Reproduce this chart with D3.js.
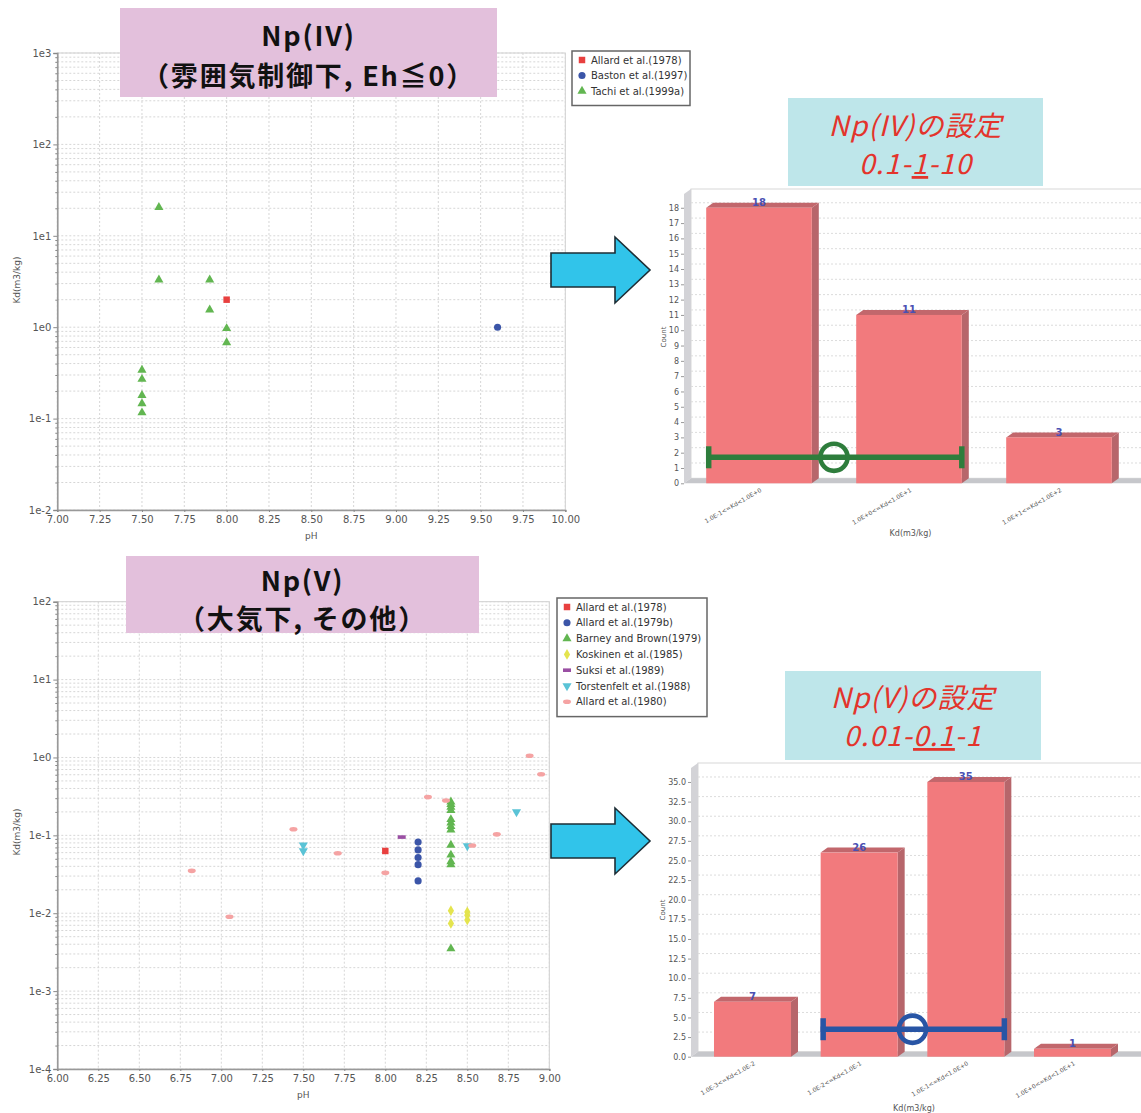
<!DOCTYPE html>
<html>
<head>
<meta charset="utf-8">
<script src="https://cdn.jsdelivr.net/npm/d3@7"></script>
<style>
  body { margin: 0; background: #fff; }
  svg { display: block; }
</style>
</head>
<body>
<svg id="chart" width="1141" height="1113"></svg>
<script>
// ---------- Np(IV): Kd vs pH (reducing conditions) ----------
const ivAllard1978  = [[8.0, 2.0]];
const ivBaston1997  = [[9.6, 1.0]];
const ivTachi1999a  = [[7.6, 20.5], [7.6, 3.3], [7.9, 3.3], [7.9, 1.55], [8.0, 0.97], [8.0, 0.68],
                       [7.5, 0.34], [7.5, 0.27], [7.5, 0.18], [7.5, 0.146], [7.5, 0.116]];
const ivKdTicks     = ["1e-2", "1e-1", "1e0", "1e1", "1e2", "1e3"];
const ivPhRange     = [7.0, 10.0];

// ---------- Np(V): Kd vs pH (air / other) ----------
const vAllard1978      = [[8.0, 0.063]];
const vAllard1979b     = [[8.2, 0.082], [8.2, 0.065], [8.2, 0.052], [8.2, 0.042], [8.2, 0.026]];
const vBarneyBrown1979 = [[8.4, 0.27], [8.4, 0.25], [8.4, 0.23], [8.4, 0.21], [8.4, 0.16], [8.4, 0.145],
                          [8.4, 0.13], [8.4, 0.118], [8.4, 0.075], [8.4, 0.056], [8.4, 0.046],
                          [8.4, 0.042], [8.4, 0.0035]];
const vKoskinen1985    = [[8.4, 0.0108], [8.4, 0.0074], [8.5, 0.0104], [8.5, 0.0094], [8.5, 0.0082]];
const vSuksi1989       = [[8.1, 0.095]];
const vTorstenfelt1988 = [[7.5, 0.075], [7.5, 0.063], [8.5, 0.073], [8.8, 0.2]];
const vAllard1980      = [[6.82, 0.035], [7.05, 0.009], [7.44, 0.12], [7.71, 0.059], [8.0, 0.033],
                          [8.26, 0.31], [8.37, 0.28], [8.53, 0.074], [8.68, 0.103], [8.88, 1.05],
                          [8.95, 0.61]];
const vKdTicks         = ["1e-4", "1e-3", "1e-2", "1e-1", "1e0", "1e1", "1e2"];
const vPhRange         = [6.0, 9.0];

// ---------- Histograms of Kd ----------
const ivBins    = ["1.0E-1<=Kd<1.0E+0", "1.0E+0<=Kd<1.0E+1", "1.0E+1<=Kd<1.0E+2"];
const ivCounts  = [18, 11, 3];
const ivSetting = [0.1, 1, 10];           // lower - selected - upper
const vBins     = ["1.0E-3<=Kd<1.0E-2", "1.0E-2<=Kd<1.0E-1", "1.0E-1<=Kd<1.0E+0", "1.0E+0<=Kd<1.0E+1"];
const vCounts   = [7, 26, 35, 1];
const vSetting  = [0.01, 0.1, 1];

// ---------- Titles ----------
const ivTitle = ["Np(IV)", "（雰囲気制御下, Eh≦0）"];
const vTitle  = ["Np(V)", "（大気下, その他）"];
const ivSetTitle = "Np(IV)の設定";
const vSetTitle  = "Np(V)の設定";

const svg = d3.select("#chart");
const SANS = "'DejaVu Sans', sans-serif";
const CJK = "'Noto Sans CJK JP', sans-serif";

// ---------- marker drawing ----------
const STYLES = {
  square:   { color: "#e8403f" },
  circle:   { color: "#3b55a8" },
  triangle: { color: "#62b651" },
  diamond:  { color: "#e4e44e" },
  dash:     { color: "#9a4fa3" },
  down:     { color: "#5ac3d6" },
  ellipse:  { color: "#f5a3a3" }
};
function drawMarker(g, shape, cx, cy) {
  const c = STYLES[shape].color;
  if (shape === "ellipse") {
    g.append("ellipse").attr("cx", cx).attr("cy", cy).attr("rx", 4).attr("ry", 2.3).attr("fill", c);
  } else if (shape === "dash") {
    g.append("rect").attr("x", cx - 4).attr("y", cy - 1.8).attr("width", 8).attr("height", 3.6).attr("fill", c);
  } else {
    const typ = { square: d3.symbolSquare, circle: d3.symbolCircle, triangle: d3.symbolTriangle,
                  diamond: d3.symbolDiamond, down: d3.symbolTriangle }[shape];
    const size = { square: 42, circle: 40, triangle: 36, diamond: 34, down: 36 }[shape];
    g.append("path").attr("d", d3.symbol(typ, size)())
      .attr("transform", `translate(${cx},${cy})` + (shape === "down" ? " rotate(180)" : ""))
      .attr("fill", c);
  }
}

// ---------- scatter plot with log Kd axis ----------
function scatter(cfg) {
  const g = svg.append("g");
  const tickVals = cfg.yTicks.map(Number);
  const x = d3.scaleLinear().domain(cfg.xDomain).range([cfg.left, cfg.right]);
  const y = d3.scaleLog().domain(d3.extent(tickVals)).range([cfg.bottom, cfg.top]);

  // grid
  const xt = d3.range(cfg.xDomain[0], cfg.xDomain[1] + 1e-9, 0.25);
  const minor = [];
  tickVals.slice(0, -1).forEach(v => { for (let m = 2; m < 10; m++) minor.push(v * m); });
  g.append("rect").attr("x", cfg.left).attr("y", cfg.top)
    .attr("width", cfg.right - cfg.left).attr("height", cfg.bottom - cfg.top)
    .attr("fill", "#fff").attr("stroke", "#cfcfcf");
  g.selectAll(".vg").data(xt).join("line")
    .attr("x1", d => x(d)).attr("x2", d => x(d)).attr("y1", cfg.top).attr("y2", cfg.bottom)
    .attr("stroke", "#d6d6d6").attr("stroke-dasharray", "2,2");
  g.selectAll(".hg").data(minor.concat(tickVals)).join("line")
    .attr("x1", cfg.left).attr("x2", cfg.right).attr("y1", d => y(d)).attr("y2", d => y(d))
    .attr("stroke", "#d6d6d6").attr("stroke-dasharray", "2,2");

  // axes
  const yAxis = d3.axisLeft(y).tickValues(tickVals).tickFormat((d, i) => cfg.yTicks[i]).tickSize(4).tickPadding(2);
  g.append("g").attr("transform", `translate(${cfg.left},0)`).call(yAxis);
  g.append("g").attr("transform", `translate(${cfg.left},0)`)
    .call(d3.axisLeft(y).tickValues(minor).tickFormat("").tickSize(2))
    .call(s => s.select(".domain").remove());
  const xAxis = d3.axisBottom(x).tickValues(xt).tickFormat(d3.format(".2f")).tickSize(2).tickPadding(4);
  g.append("g").attr("transform", `translate(0,${cfg.bottom})`).call(xAxis);
  g.selectAll(".domain").attr("stroke", "#999").attr("stroke-width", 1.6);
  g.selectAll(".tick line").attr("stroke", "#888");
  g.selectAll(".tick text").attr("font-family", SANS).attr("font-size", 10).attr("fill", "#555");

  g.append("text").attr("x", (cfg.left + cfg.right) / 2).attr("y", cfg.bottom + 29)
    .attr("text-anchor", "middle").attr("font-family", SANS).attr("font-size", 9).attr("fill", "#555").text("pH");
  g.append("text").attr("transform", `translate(${cfg.left - 37},${cfg.yLabelY}) rotate(-90)`)
    .attr("text-anchor", "middle").attr("font-family", SANS).attr("font-size", 9).attr("fill", "#555").text("Kd(m3/kg)");

  // points
  cfg.series.forEach(s => {
    const sg = g.append("g");
    s.data.forEach(([ph, kd]) => drawMarker(sg, s.shape, x(ph), y(kd)));
  });

  // legend
  const L = cfg.legend;
  const lg = g.append("g");
  lg.append("rect").attr("x", L.x).attr("y", L.y).attr("width", L.w)
    .attr("height", cfg.series.length * L.step + 8)
    .attr("fill", "#fff").attr("stroke", "#666").attr("stroke-width", 1.5);
  cfg.series.forEach((s, i) => {
    const cy = L.y + 9 + i * L.step;
    drawMarker(lg, s.shape, L.x + 10, cy);
    lg.append("text").attr("x", L.x + 19).attr("y", cy + 3.5)
      .attr("font-family", SANS).attr("font-size", 10).attr("fill", "#333").text(s.name);
  });
}

// ---------- pseudo-3D histogram ----------
function histogram(cfg) {
  const g = svg.append("g");
  const dx = 7, dy = 5;
  const x = d3.scaleBand().domain(cfg.bins).range([cfg.left, cfg.right])
    .paddingInner(cfg.padIn).paddingOuter(cfg.padOut);
  const y = d3.scaleLinear().domain([0, cfg.yMax]).range([cfg.zeroY, cfg.topY + dy]);
  const bw = x.bandwidth();
  const y0 = y(0);

  // back wall, left wall, floor
  g.append("rect").attr("x", cfg.left + dx).attr("y", cfg.topY)
    .attr("width", 1141 - cfg.left).attr("height", y0 - dy - cfg.topY)
    .attr("fill", "#fff").attr("stroke", "#d8d8d8");
  const ticks = d3.range(0, cfg.yMax + 1e-9, cfg.step);
  g.selectAll(".grid").data(ticks.filter(t => t > 0)).join("line")
    .attr("x1", cfg.left + dx).attr("x2", 1141).attr("y1", d => y(d) - dy).attr("y2", d => y(d) - dy)
    .attr("stroke", "#dcdcdc").attr("stroke-dasharray", "2,2");
  g.append("path").attr("d", `M${cfg.left},${y(cfg.yMax)}L${cfg.left + dx},${cfg.topY}L${cfg.left + dx},${y0 - dy}L${cfg.left},${y0}Z`)
    .attr("fill", "#d3d3d7");
  g.append("path").attr("d", `M${cfg.left},${y0}L${cfg.left + dx},${y0 - dy}L1141,${y0 - dy}L1141,${y0}Z`)
    .attr("fill", "#c6c7cb");

  // axis ticks
  const ya = g.append("g").attr("transform", `translate(${cfg.left},0)`)
    .call(d3.axisLeft(y).tickValues(ticks).tickFormat(cfg.fmt).tickSize(3).tickPadding(2));
  ya.select(".domain").remove();
  ya.selectAll(".tick line").attr("stroke", "#999");
  ya.selectAll(".tick text").attr("font-family", SANS).attr("font-size", 8).attr("fill", "#555");

  // bars
  cfg.bins.forEach((b, i) => {
    const v = cfg.counts[i], bx = x(b), by = y(v);
    g.append("path").attr("d", `M${bx + bw},${by}L${bx + bw + dx},${by - dy}L${bx + bw + dx},${y0 - dy}L${bx + bw},${y0}Z`)
      .attr("fill", "#b7666b");
    g.append("path").attr("d", `M${bx},${by}L${bx + dx},${by - dy}L${bx + bw + dx},${by - dy}L${bx + bw},${by}Z`)
      .attr("fill", "#c2676c");
    g.append("rect").attr("x", bx).attr("y", by).attr("width", bw).attr("height", y0 - by)
      .attr("fill", "#f27a7d");
    g.append("text").attr("x", bx + bw / 2).attr("y", by - 1.5).attr("text-anchor", "middle")
      .attr("font-family", SANS).attr("font-size", 10).attr("font-weight", 600).attr("fill", "#4a50b3").text(v);
    g.append("text").attr("transform", `translate(${bx + bw / 2 + 3},${y0 + 8}) rotate(-30)`)
      .attr("text-anchor", "end").attr("font-family", SANS).attr("font-size", 6).attr("fill", "#555").text(b);
  });

  g.append("text").attr("x", (cfg.left + 1141) / 2 - 2).attr("y", cfg.xLabelY).attr("text-anchor", "middle")
    .attr("font-family", SANS).attr("font-size", 8).attr("fill", "#555").text("Kd(m3/kg)");
  g.append("text").attr("transform", `translate(${cfg.countX},${cfg.countY}) rotate(-90)`)
    .attr("text-anchor", "middle").attr("font-family", SANS).attr("font-size", 7).attr("fill", "#555").text("Count");

  // chosen setting: lower bound - selected value - upper bound
  const lows = cfg.bins.map(b => +b.split("<=")[0]);
  const [lo, mid, hi] = cfg.setting;
  const xLo = x(cfg.bins[lows.indexOf(lo)]);
  const xHi = x(cfg.bins[lows.indexOf(hi) - 1]) + bw;
  const im = lows.indexOf(mid);
  const xMid = (x(cfg.bins[im - 1]) + bw + x(cfg.bins[im])) / 2;
  const ey = y(cfg.barY);
  const sg = g.append("g").attr("stroke", cfg.color).attr("fill", "none");
  sg.append("line").attr("x1", xLo).attr("x2", xHi).attr("y1", ey).attr("y2", ey).attr("stroke-width", 5.5);
  [xLo + 2.5, xHi].forEach(cx => sg.append("line").attr("x1", cx).attr("x2", cx)
    .attr("y1", ey - 11).attr("y2", ey + 11).attr("stroke-width", 5.5));
  sg.append("circle").attr("cx", xMid).attr("cy", ey).attr("r", 13.6).attr("stroke-width", 4.6);
}

// ---------- decorations ----------
function titleBox(x, y, w, h, fill, lines, opts) {
  const g = svg.append("g");
  g.append("rect").attr("x", x).attr("y", y).attr("width", w).attr("height", h).attr("fill", fill);
  lines.forEach((ln, i) => {
    const t = g.append("text").attr("x", x + w / 2).attr("y", opts.base[i]).attr("text-anchor", "middle")
      .attr("font-family", CJK).attr("font-size", opts.size).attr("letter-spacing", opts.spacing)
      .attr("font-weight", opts.weight).attr("font-style", opts.style || "normal").attr("fill", opts.color);
    if (Array.isArray(ln)) {
      ln.forEach(part => {
        const sp = t.append("tspan").text(part.t);
        if (part.u) sp.style("text-decoration", "underline");
      });
    } else t.text(ln);
  });
}
function arrow(x0, yc, len) {
  const bh = 17, hh = 33, hx = x0 + 64;
  svg.append("path")
    .attr("d", `M${x0},${yc - bh}L${hx},${yc - bh}L${hx},${yc - hh}L${x0 + len},${yc}L${hx},${yc + hh}L${hx},${yc + bh}L${x0},${yc + bh}Z`)
    .attr("fill", "#31c4ea").attr("stroke", "#1d2e36").attr("stroke-width", 1.6);
}

// ---------- assemble ----------
scatter({
  left: 57.3, right: 565.3, top: 53, bottom: 510, xDomain: ivPhRange, yTicks: ivKdTicks, yLabelY: 280,
  series: [
    { name: "Allard et al.(1978)", shape: "square", data: ivAllard1978 },
    { name: "Baston et al.(1997)", shape: "circle", data: ivBaston1997 },
    { name: "Tachi et al.(1999a)", shape: "triangle", data: ivTachi1999a }
  ],
  legend: { x: 572, y: 51, w: 118, step: 15.5 }
});
scatter({
  left: 57.3, right: 549.3, top: 601.7, bottom: 1069, xDomain: vPhRange, yTicks: vKdTicks, yLabelY: 832,
  series: [
    { name: "Allard et al.(1978)", shape: "square", data: vAllard1978 },
    { name: "Allard et al.(1979b)", shape: "circle", data: vAllard1979b },
    { name: "Barney and Brown(1979)", shape: "triangle", data: vBarneyBrown1979 },
    { name: "Koskinen et al.(1985)", shape: "diamond", data: vKoskinen1985 },
    { name: "Suksi et al.(1989)", shape: "dash", data: vSuksi1989 },
    { name: "Torstenfelt et al.(1988)", shape: "down", data: vTorstenfelt1988 },
    { name: "Allard et al.(1980)", shape: "ellipse", data: vAllard1980 }
  ],
  legend: { x: 557, y: 598, w: 150, step: 15.8 }
});

histogram({
  bins: ivBins, counts: ivCounts, setting: ivSetting, color: "#2e7d3c", barY: 1.7,
  left: 684, right: 1134, padIn: 0.296, padOut: 0.148,
  zeroY: 483.3, topY: 189, yMax: 18.9, step: 1, fmt: d3.format("d"),
  xLabelY: 536, countX: 666, countY: 337
});
histogram({
  bins: vBins, counts: vCounts, setting: vSetting, color: "#2855a5", barY: 3.5,
  left: 691, right: 1134, padIn: 0.278, padOut: 0.2156,
  zeroY: 1056.7, topY: 763, yMax: 36.78, step: 2.5, fmt: d3.format(".1f"),
  xLabelY: 1111, countX: 665, countY: 910
});

titleBox(120, 8, 377, 89, "#e3c0dc", ivTitle, { base: [46, 86], size: 27, spacing: 1.8, weight: "bold", color: "#111" });
titleBox(126, 556, 353, 77, "#e3c0dc", vTitle, { base: [591, 629], size: 27, spacing: 1.8, weight: "bold", color: "#111" });
titleBox(788, 98, 255, 88, "#bee6ea", [ivSetTitle, [{ t: "0.1-" }, { t: "1", u: true }, { t: "-10" }]],
  { base: [136, 174], size: 28, spacing: 1, weight: "normal", style: "italic", color: "#e3342c" });
titleBox(785, 671, 256, 89, "#bee6ea", [vSetTitle, [{ t: "0.01-" }, { t: "0.1", u: true }, { t: "-1" }]],
  { base: [708, 746], size: 28, spacing: 1, weight: "normal", style: "italic", color: "#e3342c" });

arrow(551, 270, 99);
arrow(551, 841, 99);
</script>
</body>
</html>
